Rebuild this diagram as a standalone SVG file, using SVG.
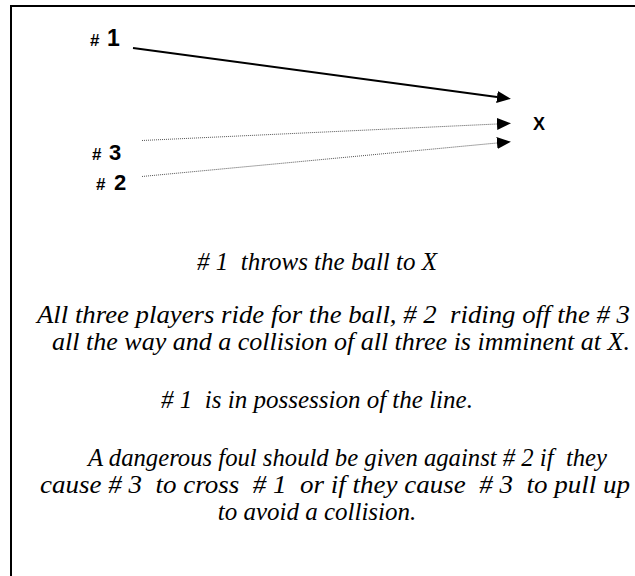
<svg xmlns="http://www.w3.org/2000/svg" width="635" height="576" viewBox="0 0 635 576">
<style>
.lbl{font-family:"Liberation Sans",Arial,sans-serif;font-weight:bold;fill:#000}
.body{font-family:'Liberation Serif','Times New Roman',serif;font-style:italic;font-size:25px;fill:#000;white-space:pre}
.c{text-anchor:middle}
.dot{stroke:#555;stroke-width:1;stroke-dasharray:1 1}
</style>
<defs>
<marker id="ah" viewBox="0 0 14 12" refX="0" refY="6" markerWidth="14" markerHeight="12" markerUnits="userSpaceOnUse" orient="auto">
<path d="M0,0 L14,6 L0,12 Z" fill="#000"/>
</marker>
</defs>
<rect x="0" y="0" width="635" height="576" fill="#fff"/>
<path d="M11,577 V6 H636" fill="none" stroke="#000" stroke-width="2"/>
<g id="connectors">
<line x1="133" y1="48" x2="497" y2="97" stroke="#000" stroke-width="2" marker-end="url(#ah)"/>
<line class="dot" x1="142" y1="140.5" x2="497" y2="124" marker-end="url(#ah)"/>
<line class="dot" x1="142" y1="176.5" x2="497" y2="143" marker-end="url(#ah)"/>
</g>
<g id="p1"><text class="lbl" x="90" y="46"><tspan font-size="17">#</tspan><tspan x="107" font-size="23">1</tspan></text></g>
<g id="p3"><text class="lbl" x="92" y="160"><tspan font-size="17">#</tspan><tspan x="109" font-size="22">3</tspan></text></g>
<g id="p2"><text class="lbl" x="96" y="190"><tspan font-size="17">#</tspan><tspan x="114" font-size="22">2</tspan></text></g>
<g id="x"><text class="lbl" x="533" y="130" font-size="18">X</text></g>
<g id="caption" xml:space="preserve">
<text class="body c" x="317" y="270"># 1  throws the ball to X</text>
<text class="body" x="37" y="323" textLength="593" lengthAdjust="spacingAndGlyphs">All three players ride for the ball, # 2  riding off the # 3</text>
<text class="body" x="52" y="350" textLength="578" lengthAdjust="spacingAndGlyphs">all the way and a collision of all three is imminent at X.</text>
<text class="body c" x="317" y="408"># 1  is in possession of the line.</text>
<text class="body" x="88" y="466" textLength="519" lengthAdjust="spacingAndGlyphs">A dangerous foul should be given against # 2 if  they</text>
<text class="body" x="40" y="493" textLength="590" lengthAdjust="spacingAndGlyphs">cause # 3  to cross  # 1  or if they cause  # 3  to pull up</text>
<text class="body c" x="317" y="520">to avoid a collision.</text>
</g>
</svg>
